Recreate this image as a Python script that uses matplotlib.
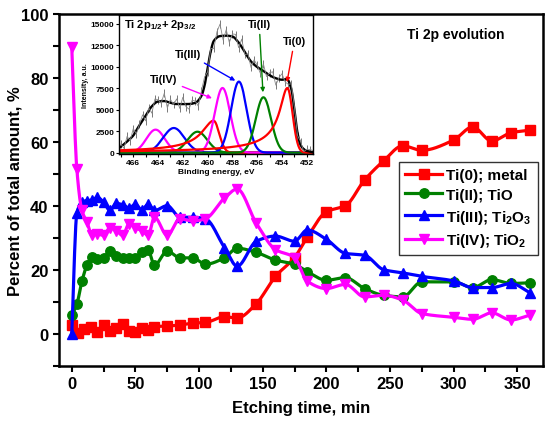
import numpy as np
import matplotlib
matplotlib.use("Agg")
import matplotlib.pyplot as plt
from matplotlib.lines import Line2D
from matplotlib.ticker import MultipleLocator

plt.rcParams['font.family'] = ['Liberation Sans', 'DejaVu Sans']
plt.rcParams['font.weight'] = 'bold'
plt.rcParams['axes.labelweight'] = 'bold'
plt.rcParams['mathtext.fontset'] = 'custom'
plt.rcParams['mathtext.rm'] = 'Liberation Sans:bold'
plt.rcParams['mathtext.it'] = 'Liberation Sans:bold'
plt.rcParams['mathtext.bf'] = 'Liberation Sans:bold'

# main chart: etching time (min) vs percent
t_metal = [0, 5, 10, 15, 20, 25, 30, 35, 40, 45, 50, 55, 60, 65, 75, 85, 95, 105,
           120, 130, 145, 160, 175, 185, 200, 215, 230, 245, 260, 275, 300, 315, 330, 345, 360]
ti0 = [2.8, 0.4, 1.5, 2.1, 0.7, 2.8, 1.0, 1.8, 3.0, 1.0, 0.7, 1.8, 1.2, 2.3, 2.5, 2.8, 3.4, 3.6,
       5.4, 5.0, 9.5, 18.0, 23.9, 30.2, 38.2, 40.1, 48.1, 54.1, 58.8, 57.4, 60.6, 64.7, 60.3, 62.9, 63.7]

t_oxide = [0, 4, 8, 12, 16, 20, 25, 30, 35, 40, 45, 50, 55, 60, 65, 75, 85, 95, 105,
           120, 130, 145, 160, 175, 185, 200, 215, 230, 245, 260, 275, 300, 315, 330, 345, 360]
ti2 = [5.9, 9.3, 16.5, 21.5, 24.0, 23.5, 23.8, 25.8, 24.3, 23.8, 23.8, 23.8, 25.6, 26.1, 21.5, 25.9,
       23.8, 23.8, 21.8, 23.8, 26.8, 25.5, 23.1, 21.8, 19.5, 16.8, 17.6, 14.2, 12.1, 11.6, 16.3, 16.3,
       14.5, 17.0, 15.8, 16.0]
ti3 = [0.0, 37.7, 41.2, 41.7, 41.8, 42.7, 41.2, 38.6, 40.8, 40.4, 39.4, 40.5, 38.8, 40.5, 38.6, 40.1,
       36.5, 36.5, 36.0, 27.0, 21.2, 29.0, 30.6, 29.0, 32.5, 29.6, 25.2, 24.6, 20.1, 19.1, 18.0, 16.6,
       14.5, 14.5, 15.8, 12.9]
ti4 = [89.8, 51.5, 38.6, 34.9, 30.8, 31.3, 30.8, 33.2, 32.3, 30.8, 34.4, 33.2, 32.3, 30.8, 36.5, 30.8,
       36.0, 35.3, 36.0, 42.5, 45.3, 34.6, 26.4, 23.9, 16.5, 14.2, 15.5, 11.6, 12.1, 10.6, 6.4, 5.2,
       4.6, 6.6, 4.4, 5.9]

# inset: Ti 2p spectrum
spec_counts = [1000, 500, 1900, 1400, 2800, 2200, 3300, 4400, 3700, 5200, 4600, 6250, 6150, 5750,
               6900, 5200, 6200, 5600, 6250, 5150, 6450, 5350, 5060, 6100, 6000, 5400, 7200, 8800,
               9400, 12100, 12100, 14050, 14950, 13080, 14300, 12800, 13800, 13750, 12200, 13200,
               11400, 11500, 9900, 10800, 10150, 9230, 10300, 8850, 9300, 9400, 7850, 8720, 9180,
               8220, 7950, 8000, 5300, 2000, 1300, 130, 400, 380, 250]
spec_err = 450

env_be = [467.25, 467.0, 466.5, 466.0, 465.5, 465.0, 464.5, 464.0, 463.5, 463.0, 462.5, 462.0,
          461.5, 461.0, 460.5, 460.25, 460.0, 459.75, 459.5, 459.0, 458.5, 458.0, 457.5, 457.0,
          456.5, 456.0, 455.5, 455.0, 454.5, 454.0, 453.6, 453.25, 453.0, 452.75, 452.5, 452.25,
          452.0, 451.5]
env_counts = [430, 700, 1300, 2000, 3200, 4300, 5400, 5950, 6000, 5800, 5650, 5650, 5660, 5800,
              6600, 7800, 9800, 11800, 13000, 13550, 13600, 13500, 12800, 11700, 10600, 9950,
              9500, 9000, 8650, 8480, 8550, 7400, 5000, 2300, 900, 420, 200, 50]

# fitted components: centre (eV), height, sigma, tail width (0 = plain gaussian)
peak_pos = [464.2, 462.73, 460.82, 459.52, 458.8, 457.48, 455.5, 453.57]
peak_height = [2680, 2870, 2440, 3720, 7520, 8260, 6440, 7520]
peak_sigma = [0.74, 0.86, 0.80, 0.45, 0.63, 0.63, 0.62, 0.42]
peak_tail = [0, 0, 0, 0.9, 0, 0, 0, 0.6]
peak_color = ['#FF00FF', '#0000FF', '#008000', '#FF0000',
              '#FF00FF', '#0000FF', '#008000', '#FF0000']


def pchip(x, y, xn):
    x = np.asarray(x, float)
    y = np.asarray(y, float)
    h = np.diff(x)
    d = np.diff(y) / h
    m = np.zeros_like(y)
    m[0], m[-1] = d[0], d[-1]
    for k in range(1, len(x) - 1):
        if d[k - 1] * d[k] > 0:
            w1 = 2 * h[k] + h[k - 1]
            w2 = h[k] + 2 * h[k - 1]
            m[k] = (w1 + w2) / (w1 / d[k - 1] + w2 / d[k])
    i = np.clip(np.searchsorted(x, xn) - 1, 0, len(x) - 2)
    s = (xn - x[i]) / h[i]
    h00 = 2 * s**3 - 3 * s**2 + 1
    h10 = s**3 - 2 * s**2 + s
    h01 = -2 * s**3 + 3 * s**2
    h11 = s**3 - s**2
    return h00 * y[i] + h10 * h[i] * m[i] + h01 * y[i + 1] + h11 * h[i] * m[i + 1]


def component(e, c, a, s, w):
    g = a * np.exp(-(e - c)**2 / (2 * s**2))
    if w > 0:
        tail = a * (1 + ((e - c) / w)**2) ** -0.6
        g = np.where(e > c, tail, g)
    return g


fig = plt.figure(figsize=(5.5, 4.27), dpi=100)
ax = fig.add_axes([0.1073, 0.1405, 0.8795, 0.8244])

series = [
    (t_metal, ti0, '#FF0000', 's', 'Ti(0); metal'),
    (t_oxide, ti2, '#008000', 'o', 'Ti(II); TiO'),
    (t_oxide, ti3, '#0000FF', '^', r'Ti(III); Ti$_{2}$O$_{3}$'),
    (t_oxide, ti4, '#FF00FF', 'v', r'Ti(IV); TiO$_{2}$'),
]
handles = []
for tx, vals, col, mk, lab in series:
    tt = np.linspace(tx[0], tx[-1], 800)
    ax.plot(tt, pchip(tx, vals, tt), color=col, lw=2.3)
    ax.plot(tx, vals, ls='none', marker=mk, ms=6.8, color=col)
    handles.append(Line2D([], [], color=col, lw=2.3, marker=mk, ms=6.8, label=lab))

ax.set_xlim(-10, 370)
ax.set_ylim(-10, 100)
ax.xaxis.set_major_locator(MultipleLocator(50))
ax.xaxis.set_minor_locator(MultipleLocator(25))
ax.yaxis.set_major_locator(MultipleLocator(20))
ax.yaxis.set_minor_locator(MultipleLocator(10))
ax.tick_params(which='both', direction='out', length=4, width=1.5, labelsize=12)
for sp in ax.spines.values():
    sp.set_linewidth(1.8)
ax.set_xlabel('Etching time, min', fontsize=12, labelpad=6)
ax.set_ylabel('Percent of total amount, %', fontsize=12, labelpad=-1)
ax.text(302, 93.6, 'Ti 2p evolution', fontsize=10, ha='center', va='center')

leg = ax.legend(handles=handles, loc='upper right', bbox_to_anchor=(0.99, 0.58),
                fontsize=11, handlelength=2.4, labelspacing=0.38, borderpad=0.4,
                handletextpad=0.3, fancybox=False, framealpha=1, borderaxespad=0)
leg.get_frame().set_edgecolor('#333333')
leg.get_frame().set_linewidth(1.0)

# inset
ax2 = fig.add_axes([0.2164, 0.637, 0.3527, 0.3255])
be = np.linspace(467.0, 451.5, len(spec_counts))
ax2.errorbar(be, spec_counts, yerr=spec_err, color='#888888', ecolor='#444444',
             lw=0.6, elinewidth=0.5, capsize=0)
fine = np.linspace(451.5, 467.25, 600)
for c, a, s, w, col in zip(peak_pos, peak_height, peak_sigma, peak_tail, peak_color):
    ax2.plot(fine, component(fine, c, a, s, w), color=col, lw=1.6)
eb = np.array(env_be[::-1])
ec = np.array(env_counts[::-1])
ax2.plot(fine, pchip(eb, ec, fine), color='black', lw=1.7)

ax2.set_xlim(467.15, 451.5)
ax2.set_ylim(-150, 16000)
ax2.xaxis.set_major_locator(MultipleLocator(2))
ax2.xaxis.set_minor_locator(MultipleLocator(1))
ax2.yaxis.set_major_locator(MultipleLocator(2500))
ax2.tick_params(which='both', direction='out', length=2.5, width=0.8, labelsize=6, pad=1)
for sp in ax2.spines.values():
    sp.set_linewidth(1.0)
ax2.set_xlabel('Binding energy, eV', fontsize=6, labelpad=1.5)
ax2.set_ylabel('Intensity, a.u.', fontsize=5, labelpad=1)
ax2.text(0.026, 0.935, r'Ti 2p$_{1/2}$+ 2p$_{3/2}$', transform=ax2.transAxes,
         fontsize=8, ha='left', va='center')

notes = [
    ('Ti(IV)', (463.58, 8570), (459.65, 6330), '#FF00FF'),
    ('Ti(III)', (461.56, 11480), (457.77, 8370), '#0000FF'),
    ('Ti(II)', (455.84, 14970), (455.54, 7020), '#008000'),
    ('Ti(0)', (453.0, 13000), (453.6, 8190), '#FF0000'),
]
for lab, txy, hxy, col in notes:
    ax2.annotate(lab, xy=hxy, xytext=txy, fontsize=8, ha='center', va='center',
                 arrowprops=dict(arrowstyle='-|>', color=col, lw=1.0, mutation_scale=6,
                                 shrinkA=2, shrinkB=0))

fig.savefig('out.png', dpi=100)
